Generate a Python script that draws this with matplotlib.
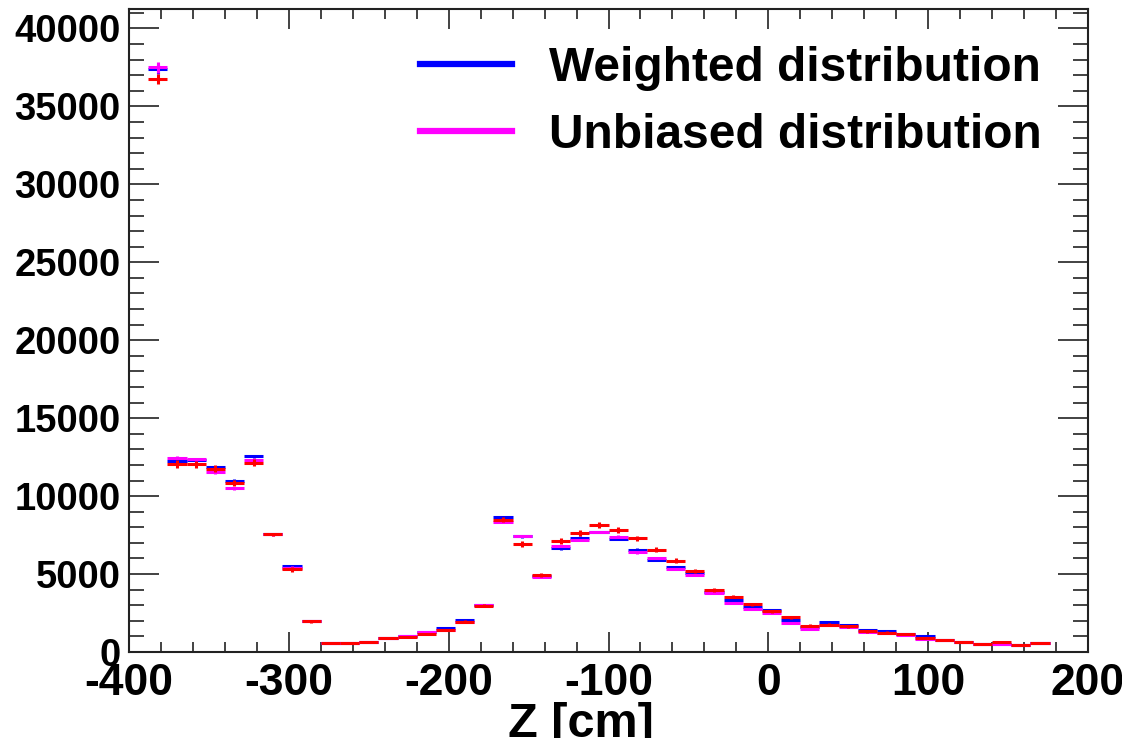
import matplotlib
matplotlib.use('Agg')
import matplotlib.pyplot as plt
from matplotlib.lines import Line2D
from matplotlib.ticker import MultipleLocator
import numpy as np

# 50 bins of 12 cm from -400 to 200; bins 0, 48, 49 are empty
bin_lo = -400
bin_width = 12
first_bin = 1

weighted = [37400, 12280, 12330, 11860, 10980, 12550, 7560, 5540, 2010, 560,
            560, 660, 870, 1000, 1270, 1520, 2040, 3000, 8640, 7420,
            4850, 6650, 7340, 7690, 7260, 6560, 5890, 5460, 5090, 3860,
            3310, 2910, 2680, 2070, 1600, 1930, 1750, 1430, 1340, 1150,
            1010, 800, 660, 545, 500, 460, 590]
unbiased = [37500, 12470, 12360, 11550, 10510, 12340, 7550, 5420, 2010, 565,
            565, 660, 870, 1000, 1270, 1380, 1910, 3000, 8340, 7430,
            4800, 6790, 7190, 7710, 7400, 6390, 6030, 5320, 4940, 3800,
            3170, 2780, 2520, 1840, 1500, 1760, 1590, 1280, 1200, 1100,
            860, 790, 660, 545, 490, 460, 590]
reco = [36760, 12070, 12050, 11750, 10820, 12150, 7540, 5300, 1960, 560,
        560, 660, 870, 990, 1170, 1420, 1950, 2960, 8490, 6910,
        4940, 7100, 7620, 8130, 7830, 7290, 6570, 5850, 5200, 3990,
        3560, 3050, 2600, 2230, 1680, 1750, 1650, 1330, 1250, 1160,
        930, 780, 650, 540, 610, 455, 585]
err_wu = [350, 110, 110, 100, 100, 110, 80, 70, 40, 20,
          20, 20, 25, 30, 30, 35, 40, 50, 90, 80,
          60, 80, 80, 80, 80, 80, 70, 70, 70, 60,
          55, 50, 50, 45, 40, 40, 40, 35, 35, 30,
          30, 25, 25, 20, 20, 20, 20]
err_r = [320, 250, 220, 220, 200, 200, 120, 150, 80, 50,
         50, 50, 60, 60, 70, 80, 90, 100, 180, 200,
         150, 190, 190, 190, 180, 170, 160, 150, 150, 120,
         110, 100, 100, 90, 90, 90, 80, 80, 70, 70,
         60, 60, 50, 50, 50, 50, 50]

centers = bin_lo + bin_width * (np.arange(len(weighted)) + first_bin + 0.5)

plt.rcParams['font.family'] = ['Liberation Sans', 'DejaVu Sans']
plt.rcParams['font.weight'] = 'bold'
plt.rcParams['axes.unicode_minus'] = False

fig = plt.figure(figsize=(11.22, 7.38), dpi=100)
ax = fig.add_axes([129 / 1122, 1 - 652 / 738, (1088 - 129) / 1122, (652 - 9) / 738])

lw = 2.2
for vals, errs, col, z in [(weighted, err_wu, '#0000ff', 2),
                           (unbiased, err_wu, '#ff00ff', 3),
                           (reco, err_r, '#ff0000', 4)]:
    ax.errorbar(centers, vals, xerr=bin_width / 2, yerr=errs, fmt='none',
                ecolor=col, elinewidth=lw, capsize=0, zorder=z)

ax.set_xlim(-400, 200)
ax.set_ylim(0, 41250)

ax.xaxis.set_major_locator(MultipleLocator(100))
ax.xaxis.set_minor_locator(MultipleLocator(20))
ax.yaxis.set_major_locator(MultipleLocator(5000))
ax.yaxis.set_minor_locator(MultipleLocator(1000))

ax.tick_params(axis='both', which='both', direction='in', top=True, right=True,
               width=1.2, color='#222222')
ax.tick_params(axis='x', which='major', length=14.4, labelsize=32, pad=8)
ax.tick_params(axis='x', which='minor', length=7.2)
ax.tick_params(axis='y', which='major', length=21.6, labelsize=27.5, pad=6)
ax.tick_params(axis='y', which='minor', length=10.8)
for lab in ax.get_xticklabels() + ax.get_yticklabels():
    lab.set_fontweight('bold')
for sp in ax.spines.values():
    sp.set_linewidth(1.5)
    sp.set_color('#222222')

ax.set_xlabel('Z [cm]', fontsize=35, fontweight='bold')
ax.xaxis.set_label_coords(0.471, -0.078)

handles = [Line2D([], [], color='#0000ff', lw=4.5),
           Line2D([], [], color='#ff00ff', lw=4.5)]
ax.legend(handles, ['Weighted distribution', 'Unbiased distribution'],
          loc='upper left', bbox_to_anchor=(396 / 1122, 1 - 22 / 738),
          bbox_transform=fig.transFigure, frameon=False, borderpad=0,
          prop={'size': 34.5, 'weight': 'bold'}, handlelength=1.92,
          handletextpad=0.78, labelspacing=0.46)

fig.savefig('out.png', dpi=100)
